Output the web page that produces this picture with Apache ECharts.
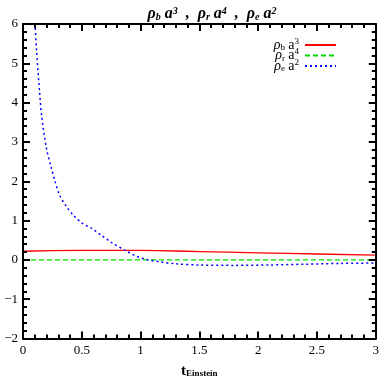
<!DOCTYPE html>
<html>
<head>
<meta charset="utf-8">
<script src="https://cdn.jsdelivr.net/npm/echarts@6/dist/echarts.min.js"></script>
<style>html,body{margin:0;padding:0;background:#fff}#c{width:382px;height:384px}</style>
</head>
<body>
<div id="c"></div>
<script>
var xTicks = [0, 0.5, 1, 1.5, 2, 2.5, 3];
var yTicks = [-2, -1, 0, 1, 2, 3, 4, 5, 6];

var tE = [0.09, 0.102, 0.116, 0.136, 0.159, 0.20, 0.238, 0.272, 0.314, 0.371, 0.428, 0.499, 0.584, 0.669, 0.754, 0.875, 0.966, 1.05, 1.164, 1.3, 1.5, 1.8, 2.1, 2.4, 2.7, 3.0];
var rhoE = [6.4, 5.99, 5.29, 4.47, 3.65, 2.83, 2.37, 2.0, 1.63, 1.35, 1.14, 0.94, 0.80, 0.62, 0.44, 0.23, 0.09, 0.01, -0.05, -0.10, -0.13, -0.14, -0.13, -0.11, -0.09, -0.08];

var tB = [0, 0.5, 1.0, 1.5, 2.0, 2.5, 3.0];
var rhoB = [0.22, 0.24, 0.24, 0.21, 0.18, 0.15, 0.12];

var tR = [0, 1.0, 2.0, 3.0];
var rhoR = [0, 0, 0, 0];

function pairs(xs, ys) { return xs.map(function (x, i) { return [x, ys[i]]; }); }

var FONT = 'Liberation Serif';
var chart = echarts.init(document.getElementById('c'), null, {renderer: 'canvas'});

function axisParts(zeroIdx) {
  return {
    z: 10,
    axisLine: {show: true, onZero: true, onZeroAxisIndex: zeroIdx, lineStyle: {color: '#000', width: 2}},
    axisTick: {show: true, inside: true, length: 7, lineStyle: {color: '#000', width: 2}},
    minorTick: {show: true, splitNumber: 5, length: 4, lineStyle: {color: '#000', width: 2}},
    splitLine: {show: false}
  };
}

function mk(base, extra) { return Object.assign({}, base, extra); }

var legendRich = {
  g: {fontFamily: FONT, fontStyle: 'italic', fontSize: 14, color: '#000', lineHeight: 10, height: 10},
  s: {fontFamily: FONT, fontSize: 9, color: '#000', verticalAlign: 'bottom', lineHeight: 6, height: 6, padding: [4, 0, 0, 0]},
  n: {fontFamily: FONT, fontSize: 14, color: '#000', lineHeight: 10, height: 10},
  p: {fontFamily: FONT, fontSize: 9, color: '#000', verticalAlign: 'top', lineHeight: 5, height: 5, padding: [0, 0, 5, 0]}
};
var legendMap = {
  'rb': '{g|ρ}{s|b} {n|a}{p|3}',
  'rr': '{g|ρ}{s|r} {n|a}{p|4}',
  're': '{g|ρ}{s|e} {n|a}{p|2}'
};

var option = {
  backgroundColor: '#fff',
  animation: false,
  title: {
    text: '{t|ρ}{s|b}{t| a}{p|3}{t|  ,  ρ}{s|r}{t| a}{p|4}{t|  ,  ρ}{s|e}{t| a}{p|2}',
    left: 207, top: 1, textAlign: 'center',
    textStyle: {
      rich: {
        t: {fontFamily: FONT, fontStyle: 'italic', fontWeight: 'bold', fontSize: 16, color: '#000', lineHeight: 16},
        s: {fontFamily: FONT, fontStyle: 'italic', fontWeight: 'bold', fontSize: 10, color: '#000', verticalAlign: 'bottom', lineHeight: 16, padding: [5, 0, 0, 0]},
        p: {fontFamily: FONT, fontStyle: 'italic', fontWeight: 'bold', fontSize: 10, color: '#000', verticalAlign: 'top', lineHeight: 16, padding: [0, 0, 6, 0]}
      }
    }
  },
  legend: {
    right: 45, top: 37, orient: 'vertical', align: 'right', padding: 0,
    itemWidth: 31, itemHeight: 8, itemGap: -5,
    itemStyle: {opacity: 0},
    data: ['rb', 'rr', 're'],
    formatter: function (n) { return legendMap[n]; },
    textStyle: {rich: legendRich, padding: [0, 1, 0, 0]}
  },
  grid: {show: false, left: 23, right: 6, top: 24, bottom: 35},
  xAxis: [
    mk(axisParts(2), {
      type: 'value', min: xTicks[0], max: xTicks[xTicks.length - 1], interval: 0.5, position: 'bottom',
      axisLabel: {fontFamily: FONT, fontSize: 13, color: '#000', margin: 6},
      name: '{t|t}{s|Einstein}', nameLocation: 'middle', nameGap: 26,
      nameTextStyle: {rich: {
        t: {fontFamily: FONT, fontWeight: 'bold', fontSize: 15, color: '#000', lineHeight: 14},
        s: {fontFamily: FONT, fontWeight: 'bold', fontSize: 9, color: '#000', verticalAlign: 'bottom', lineHeight: 14, padding: [6, 0, 0, 0]}
      }}
    }),
    mk(axisParts(3), {
      type: 'value', min: xTicks[0], max: xTicks[xTicks.length - 1], interval: 0.5, position: 'top',
      axisLabel: {show: false}
    }),
    {type: 'value', min: -1, max: 0, position: 'top', show: false}
  ],
  yAxis: [
    mk(axisParts(0), {
      type: 'value', min: yTicks[0], max: yTicks[yTicks.length - 1], interval: 1, position: 'left',
      axisLabel: {fontFamily: FONT, fontSize: 13, color: '#000', margin: 5,
        formatter: function (v) { return String(v).replace('-', '−'); }}
    }),
    mk(axisParts(2), {
      type: 'value', min: yTicks[0], max: yTicks[yTicks.length - 1], interval: 1, position: 'right',
      axisLabel: {show: false}
    }),
    {type: 'value', min: 0, max: 1, position: 'left', show: false},
    {type: 'value', min: -1, max: 0, position: 'right', show: false}
  ],
  series: [
    {name: 'rb', type: 'line', data: pairs(tB, rhoB), symbol: 'none', smooth: true,
      lineStyle: {color: '#ff0000', width: 1.3, type: 'solid'}, itemStyle: {color: '#ff0000'}},
    {name: 'rr', type: 'line', data: pairs(tR, rhoR), symbol: 'none',
      lineStyle: {color: '#00e000', width: 1.3, type: [5, 3]}, itemStyle: {color: '#00e000'}},
    {name: 're', type: 'line', data: pairs(tE, rhoE), symbol: 'none', smooth: 0.3, clip: true,
      lineStyle: {color: '#0000ff', width: 1.5, type: [2, 3]}, itemStyle: {color: '#0000ff'}}
  ]
};
chart.setOption(option);
</script>
</body>
</html>
